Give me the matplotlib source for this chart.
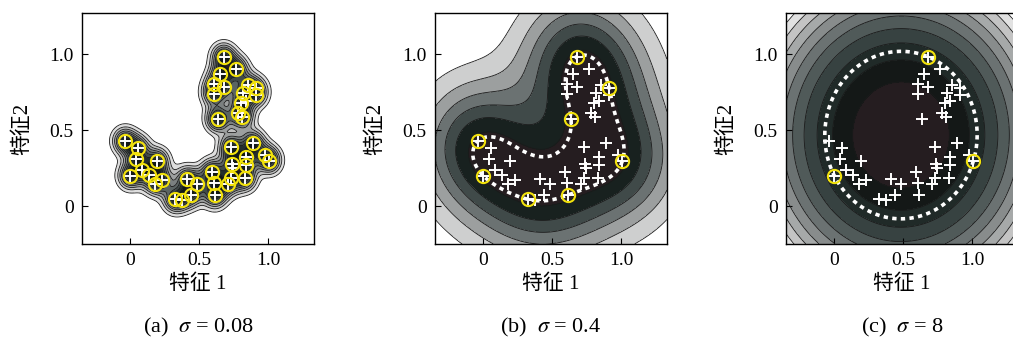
import numpy as np
import matplotlib
matplotlib.use("Agg")
import matplotlib.pyplot as plt
from matplotlib.colors import LinearSegmentedColormap

plt.rcParams["font.family"] = ["Liberation Serif", "Noto Sans CJK SC"]
plt.rcParams["mathtext.fontset"] = "stix"

# samples (feature 1, feature 2)
feat1 = [0.676, 0.767, 0.652, 0.604, 0.676, 0.604, 0.849, 0.911, 0.815, 0.909,
         0.839, 0.801, 0.777, 0.808, 0.635, -0.038, 0.058, 0.041, 0.192, 0.084,
         0.000, 0.137, 0.177, 0.228, 0.408, 0.480, 0.441, 0.324, 0.376, 0.592,
         0.604, 0.612, 0.705, 0.729, 0.736, 0.743, 0.729, 0.887, 0.839, 0.839,
         0.827, 0.976, 1.007]
feat2 = [0.983, 0.902, 0.869, 0.803, 0.782, 0.738, 0.799, 0.777, 0.745, 0.731,
         0.694, 0.677, 0.611, 0.585, 0.574, 0.428, 0.384, 0.312, 0.295, 0.236,
         0.199, 0.203, 0.148, 0.170, 0.177, 0.144, 0.072, 0.044, 0.039, 0.225,
         0.153, 0.072, 0.148, 0.181, 0.275, 0.247, 0.389, 0.415, 0.323, 0.269,
         0.181, 0.334, 0.297]

sigmas = [0.08, 0.4, 8]
captions = ["(a)  $\\sigma$ = 0.08", "(b)  $\\sigma$ = 0.4", "(c)  $\\sigma$ = 8"]
n_bands = [10, 7, 11]

X = np.column_stack([feat1, feat2])

cmap = LinearSegmentedColormap.from_list(
    "svdd", ["#251d20", "#0f1715", "#2b3735", "#4a5453", "#6a7171",
             "#8f9393", "#b5b6b6", "#dadada", "#ffffff"])


def kernel(a, b, s):
    d2 = ((a[:, None, :] - b[None, :, :]) ** 2).sum(-1)
    return np.exp(-d2 / s ** 2)


def proj_simplex(v):
    u = np.sort(v)[::-1]
    css = np.cumsum(u)
    k = np.arange(1, len(v) + 1)
    rho = np.nonzero(u * k > css - 1)[0][-1]
    theta = (css[rho] - 1) / (rho + 1)
    return np.maximum(v - theta, 0)


def fit_svdd(X, s, iters=20000):
    # hard-margin SVDD: min a'Ka on the simplex (k(x,x)=1)
    n = len(X)
    K = kernel(X, X, s)
    Kc = K - 1.0
    J = np.eye(n) - 1.0 / n
    L = 2 * np.abs(np.linalg.eigvalsh(J @ Kc @ J)).max()
    a = np.full(n, 1.0 / n)
    y = a.copy()
    t = 1.0
    for _ in range(iters):
        a_new = proj_simplex(y - 2 * Kc @ y / L)
        t_new = (1 + np.sqrt(1 + 4 * t * t)) / 2
        y = a_new + (t - 1) / t_new * (a_new - a)
        a, t = a_new, t_new
    return a, K


fig = plt.figure(figsize=(10.13, 3.42), dpi=100)
lefts = [82, 435, 786]
gx = np.linspace(-0.35, 1.33, 320)
gy = np.linspace(-0.25, 1.27, 320)
GX, GY = np.meshgrid(gx, gy)
G = np.column_stack([GX.ravel(), GY.ravel()])

for i, s in enumerate(sigmas):
    ax = fig.add_axes([lefts[i] / 1013, 98 / 342, 232 / 1013, 231 / 342])
    a, K = fit_svdd(X, s)
    aka = a @ K @ a
    F = (1 - 2 * kernel(G, X, s) @ a + aka).reshape(GX.shape)
    sv = a > 1e-3 * a.max()
    r2 = np.median(1 - 2 * K[sv] @ a + aka)

    fmin, fmax = F.min(), F.max()
    if i == 0:
        fmax = 1 + aka
    levels = np.linspace(fmin, fmax + 1e-9, n_bands[i] + 1)
    colors = [cmap(j / (n_bands[i] - 1)) for j in range(n_bands[i])]
    ax.contourf(GX, GY, F, levels=levels, colors=colors)
    ax.contour(GX, GY, F, levels=levels[1:-1], colors="#1a1a1a", linewidths=0.6)
    if i > 0:
        ax.contour(GX, GY, F, levels=[r2], colors="white", linewidths=2.6,
                   linestyles=[(0, (1.2, 1.2))])

    ax.plot(X[:, 0], X[:, 1], "+", color="white", ms=9, mew=1.4)
    ax.plot(X[sv, 0], X[sv, 1], "o", mfc="none", mec="#f2e20c", ms=9.5, mew=1.5)

    ax.set_xlim(-0.35, 1.33)
    ax.set_ylim(-0.25, 1.27)
    ax.set_xticks([0, 0.5, 1.0])
    ax.set_xticklabels(["0", "0.5", "1.0"])
    ax.set_yticks([0, 0.5, 1.0])
    ax.set_yticklabels(["0", "0.5", "1.0"])
    ax.tick_params(direction="in", length=4, labelsize=14, pad=6)
    for sp in ax.spines.values():
        sp.set_linewidth(1.0)
    ax.set_xlabel("特征 1", fontsize=15, labelpad=4)
    ax.set_ylabel("特征2", fontsize=15, labelpad=12)
    cx = (lefts[i] + 116) / 1013
    fig.text(cx, 15 / 342, captions[i], ha="center", va="center", fontsize=16)

fig.savefig("out.png", dpi=100)
